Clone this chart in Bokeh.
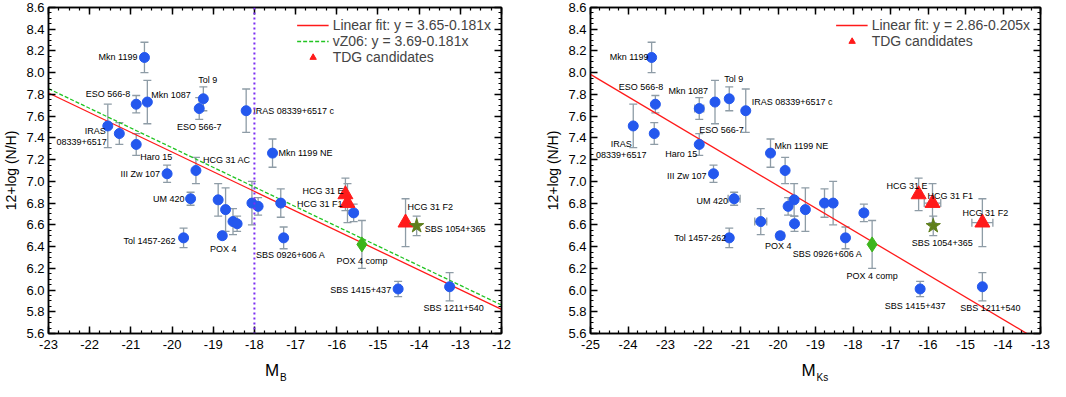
import numpy as np
from bokeh.plotting import figure
from bokeh.models import (ColumnDataSource, Range1d, FixedTicker, PrintfTickFormatter,
                          CustomJSTickFormatter, LinearAxis, Whisker, TeeHead, Span, Legend,
                          LegendItem)
from bokeh.layouts import row, column
from bokeh.embed import file_html
from bokeh.resources import INLINE
from bokeh.core.properties import value

# ---------------- data ----------------
blue_names = ["Mkn 1199", "ESO 566-8", "Mkn 1087", "Tol 9", "ESO 566-7", "IRAS 08339+6517 c",
              "IRAS 08339+6517", "p8", "Haro 15", "HCG 31 AC", "III Zw 107", "Mkn 1199 NE",
              "UM 420", "Tol 1457-262", "p15", "p16", "POX 4", "p18", "p19", "p20", "p21", "p22",
              "SBS 0926+606 A", "p24", "SBS 1415+437", "SBS 1211+540"]
blue_mb = [-20.67, -20.87, -20.60, -19.24, -19.34, -18.20, -21.56, -21.28, -20.87, -19.42,
           -20.12, -17.56, -19.55, -19.72, -18.88, -18.70, -18.78, -18.52, -18.42, -18.06,
           -17.91, -17.36, -17.29, -15.59, -14.51, -13.26]
blue_mks = [-23.37, -23.27, -21.68, -21.30, -22.10, -20.86, -23.86, -23.30, -22.10, -19.81,
            -21.72, -20.20, -21.17, -21.30, -19.57, -19.27, -19.94, -20.46, -19.56, -18.53,
            -19.73, -18.76, -18.20, -17.71, -16.21, -14.55]
blue_mks_err = [0, 0, 0, 0, 0.12, 0, 0, 0, 0, 0,
                0, 0, 0.16, 0, 0, 0, 0.10, 0.16, 0, 0,
                0, 0, 0, 0, 0, 0]
blue_nh = [8.14, 7.71, 7.73, 7.76, 7.67, 7.65, 7.51, 7.44, 7.34, 7.10, 7.07, 7.26, 6.84,
           6.48, 6.83, 6.74, 6.50, 6.63, 6.61, 6.80, 6.77, 6.80, 6.48, 6.71, 6.01, 6.03]
blue_nh_err = [0.14, 0.08, 0.20, 0.11, 0.10, 0.20, 0.20, 0.10, 0.10, 0.12, 0.08, 0.13, 0.06,
               0.09, 0.15, 0.20, 0.03, 0.12, 0.07, 0.20, 0.08, 0.13, 0.10, 0.08, 0.07, 0.13]

tdg_names = ["HCG 31 E", "HCG 31 F1", "HCG 31 F2"]
tdg_mb = [-15.79, -15.74, -14.33]
tdg_mks = [-16.25, -15.88, -14.55]
tdg_mks_err = [0, 0.22, 0.28]
tdg_nh = [6.88, 6.80, 6.62]
tdg_nh_err = [0.15, 0.18, 0.22]

star_names = ["SBS 1054+365"]
star_mb = [-14.06]
star_mks = [-15.86]
star_nh = [6.59]
star_nh_err = [0.09]

diam_names = ["POX 4 comp"]
diam_mb = [-15.39]
diam_mks = [-17.49]
diam_nh = [6.42]
diam_nh_err = [0.22]

fit_left = [(3.65, -0.181, "Linear fit: y = 3.65-0.181x"), (3.69, -0.181, "vZ06: y = 3.69-0.181x")]
fit_right = [(2.86, -0.205, "Linear fit: y = 2.86-0.205x")]
MB_LIMIT = -18.0

# label placements: (anchor, text, dx px, dy px (down +), align)
labels_left = [
    ("Mkn 1199", "Mkn 1199", -7, 0, "right"),
    ("ESO 566-8", "ESO 566-8", -6, -10, "right"),
    ("Mkn 1087", "Mkn 1087", 4, -7, "left"),
    ("Tol 9", "Tol 9", -5, -19, "left"),
    ("ESO 566-7", "ESO 566-7", 0, 18, "center"),
    ("IRAS 08339+6517 c", "IRAS 08339+6517 c", 7, 0, "left"),
    ("IRAS 08339+6517", "IRAS", -2, 5, "right"),
    ("IRAS 08339+6517", "08339+6517", -1, 16, "right"),
    ("Haro 15", "Haro 15", 4, 13, "left"),
    ("HCG 31 AC", "HCG 31 AC", 7, -11, "left"),
    ("III Zw 107", "III Zw 107", -7, 0, "right"),
    ("Mkn 1199 NE", "Mkn 1199 NE", 6, 0, "left"),
    ("UM 420", "UM 420", -6, 0, "right"),
    ("Tol 1457-262", "Tol 1457-262", -8, 3, "right"),
    ("POX 4", "POX 4", 1, 13, "center"),
    ("SBS 0926+606 A", "SBS 0926+606 A", 7, 17, "center"),
    ("HCG 31 E", "HCG 31 E", -2, -3, "right"),
    ("HCG 31 F1", "HCG 31 F1", -5, 1, "right"),
    ("HCG 31 F2", "HCG 31 F2", 2, -16, "left"),
    ("SBS 1054+365", "SBS 1054+365", 8, 3, "left"),
    ("POX 4 comp", "POX 4 comp", 0, 17, "center"),
    ("SBS 1415+437", "SBS 1415+437", -7, 1, "right"),
    ("SBS 1211+540", "SBS 1211+540", 4, 21, "center"),
]
labels_right = [
    ("Mkn 1199", "Mkn 1199", -3, 0, "right"),
    ("ESO 566-8", "ESO 566-8", 8, -17, "right"),
    ("Mkn 1087", "Mkn 1087", -7, -11, "right"),
    ("Tol 9", "Tol 9", -5, -20, "left"),
    ("IRAS 08339+6517 c", "IRAS 08339+6517 c", 6, -9, "left"),
    ("ESO 566-7", "ESO 566-7", 0, 21, "left"),
    ("IRAS 08339+6517", "IRAS", -12, 18, "center"),
    ("IRAS 08339+6517", "08339+6517", -12, 29, "center"),
    ("Haro 15", "Haro 15", -2, 10, "right"),
    ("Mkn 1199 NE", "Mkn 1199 NE", 4, -7, "left"),
    ("III Zw 107", "III Zw 107", -7, 2, "right"),
    ("UM 420", "UM 420", -6, 2, "right"),
    ("Tol 1457-262", "Tol 1457-262", -3, 0, "right"),
    ("POX 4", "POX 4", -2, 10, "center"),
    ("SBS 0926+606 A", "SBS 0926+606 A", -18, 16, "center"),
    ("POX 4 comp", "POX 4 comp", 0, 32, "center"),
    ("HCG 31 E", "HCG 31 E", 9, -8, "right"),
    ("HCG 31 F1", "HCG 31 F1", -5, -7, "left"),
    ("SBS 1054+365", "SBS 1054+365", 9, 17, "center"),
    ("HCG 31 F2", "HCG 31 F2", 3, -10, "center"),
    ("SBS 1415+437", "SBS 1415+437", -5, 17, "center"),
    ("SBS 1211+540", "SBS 1211+540", 8, 21, "center"),
]

# ---------------- style ----------------
FONT = "Liberation Sans"
BLUE = "#2458ee"
ERR = "#8e9ca6"
RED = "#ff1a1a"
GREEN_LINE = "#22c422"
OLIVE = "#5f7f1c"
DIAM = "#3db51c"
VIOLET = "#7a2cf2"
Y0, Y1 = 5.6, 8.6
MAIN_H = 355
LAB_H = 26


def make_panel(xb, xb_err, xt, xt_err, xs, xd, xr, fits, label_spec, width, mbl, mbr, sub, sub_dx, m_dx, vline):
    p = figure(width=width, height=MAIN_H, x_range=Range1d(*xr), y_range=Range1d(Y0, Y1),
               output_backend="svg", toolbar_location=None,
               min_border_left=mbl, min_border_right=mbr, min_border_top=7, min_border_bottom=22)
    p.grid.visible = False
    p.outline_line_color = "black"
    p.outline_line_width = 1.5

    xt_major = list(np.arange(xr[0], xr[1] + 0.5, 1.0))
    xt_minor = list(np.arange(xr[0], xr[1] + 0.01, 0.25))
    yt_major = list(np.round(np.arange(Y0, Y1 + 0.01, 0.2), 2))
    yt_minor = list(np.round(np.arange(Y0, Y1 + 0.01, 0.05), 3))

    def style(ax, ticker):
        ax.ticker = ticker
        ax.axis_line_width = 1.5
        ax.major_tick_line_width = 1.5
        ax.minor_tick_line_width = 1.2
        ax.major_tick_in = 7
        ax.major_tick_out = 0
        ax.minor_tick_in = 3
        ax.minor_tick_out = 0

    xa = p.xaxis[0]
    style(xa, FixedTicker(ticks=xt_major, minor_ticks=xt_minor))
    xa.formatter = PrintfTickFormatter(format="%d")
    xa.major_label_text_font = FONT
    xa.major_label_text_font_size = "13px"
    xa.major_label_text_color = "black"
    xa.major_label_standoff = 6

    ya = p.yaxis[0]
    style(ya, FixedTicker(ticks=yt_major, minor_ticks=yt_minor))
    ya.formatter = PrintfTickFormatter(format="%.1f")
    ya.major_label_text_font = FONT
    ya.major_label_text_font_size = "13px"
    ya.major_label_text_color = "black"
    ya.major_label_standoff = 4
    ya.axis_label = "12+log (N/H)"
    ya.axis_label_text_font = FONT
    ya.axis_label_text_font_size = "14px"
    ya.axis_label_text_font_style = "normal"
    ya.axis_label_text_color = "black"
    ya.axis_label_standoff = 4

    top = LinearAxis(formatter=CustomJSTickFormatter(code="return ''"), major_label_standoff=0)
    style(top, FixedTicker(ticks=xt_major, minor_ticks=xt_minor))
    p.add_layout(top, "above")
    rgt = LinearAxis(formatter=CustomJSTickFormatter(code="return ''"), major_label_standoff=0)
    style(rgt, FixedTicker(ticks=yt_major, minor_ticks=yt_minor))
    p.add_layout(rgt, "right")

    # fit lines
    fit_colors = [RED, GREEN_LINE]
    fit_dash = [None, "4 2"]
    items = []
    xx = np.array([xr[0], xr[1]])
    for i, (a, b, lab) in enumerate(fits):
        kw = dict(line_color=fit_colors[i], line_width=1.3)
        if fit_dash[i]:
            kw["line_dash"] = fit_dash[i]
        r = p.line(xx, a + b * xx, **kw)
        items.append(LegendItem(label=lab, renderers=[r]))

    if vline:
        p.add_layout(Span(location=MB_LIMIT, dimension="height", line_color=VIOLET,
                          line_dash="2 3", line_width=2))

    # error bars
    all_x = list(xb) + list(xt) + list(xs) + list(xd)
    all_y = blue_nh + tdg_nh + star_nh + diam_nh
    all_e = blue_nh_err + tdg_nh_err + star_nh_err + diam_nh_err
    all_names = blue_names + tdg_names + star_names + diam_names
    ysrc = ColumnDataSource(dict(x=all_x, lo=[y - e for y, e in zip(all_y, all_e)],
                                 hi=[y + e for y, e in zip(all_y, all_e)]))
    p.add_layout(Whisker(source=ysrc, base="x", lower="lo", upper="hi", dimension="height",
                         line_color=ERR, line_width=1.3,
                         upper_head=TeeHead(size=8, line_color=ERR, line_width=1.3),
                         lower_head=TeeHead(size=8, line_color=ERR, line_width=1.3)))
    hx = list(xb) + list(xt)
    hy = blue_nh + tdg_nh
    he = list(xb_err) + list(xt_err)
    sel = [i for i, e in enumerate(he) if e > 0]
    if sel:
        xsrc = ColumnDataSource(dict(y=[hy[i] for i in sel], lo=[hx[i] - he[i] for i in sel],
                                     hi=[hx[i] + he[i] for i in sel]))
        p.add_layout(Whisker(source=xsrc, base="y", lower="lo", upper="hi", dimension="width",
                             line_color=ERR, line_width=1.3,
                             upper_head=TeeHead(size=8, line_color=ERR, line_width=1.3),
                             lower_head=TeeHead(size=8, line_color=ERR, line_width=1.3)))

    # markers
    p.scatter(list(xb), blue_nh, marker="circle", size=10, fill_color=BLUE, line_color=BLUE)
    rt = p.scatter(list(xt), tdg_nh, marker="triangle", size=15, fill_color=RED, line_color=RED)
    p.scatter(list(xs), star_nh, marker="star", size=15, fill_color=OLIVE, line_color=OLIVE)
    p.scatter(list(xd), diam_nh, marker="diamond", size=15, fill_color=DIAM, line_color=DIAM)
    items.append(LegendItem(label="TDG candidates", renderers=[rt]))

    leg = Legend(items=items, location="top_right", border_line_alpha=0, background_fill_alpha=0,
                 label_text_font=FONT, label_text_font_size="14px", glyph_width=32, glyph_height=16,
                 label_height=16, spacing=0, padding=2, margin=8, label_standoff=4)
    p.add_layout(leg)

    # point labels
    pos = {n: (x, y) for n, x, y in zip(all_names, all_x, all_y)}
    for align in ["left", "center", "right"]:
        rows = [s for s in label_spec if s[4] == align]
        if not rows:
            continue
        src = ColumnDataSource(dict(x=[pos[s[0]][0] for s in rows], y=[pos[s[0]][1] for s in rows],
                                    t=[s[1] for s in rows], dx=[s[2] for s in rows],
                                    dy=[s[3] for s in rows]))
        p.text(x="x", y="y", text="t", x_offset="dx", y_offset="dy", source=src,
               text_font=value(FONT), text_font_size="9px", text_align=align,
               text_baseline="middle", text_color="black")

    # x-axis title with subscript, in a strip below the plot
    pl = figure(width=width, height=LAB_H, x_range=p.x_range, y_range=Range1d(0, LAB_H),
                output_backend="svg", toolbar_location=None, x_axis_type=None, y_axis_type=None,
                min_border_left=mbl, min_border_right=mbr, min_border_top=0, min_border_bottom=0)
    pl.grid.visible = False
    pl.outline_line_color = None
    xm = (xr[0] + xr[1]) / 2
    pl.text(x=[xm], y=[11], text=["M"], x_offset=[m_dx], text_font=value(FONT),
            text_font_size="17px", text_align="center", text_baseline="middle", text_color="black")
    pl.text(x=[xm], y=[4.5], text=[sub], x_offset=[sub_dx], text_font=value(FONT),
            text_font_size="10px", text_align="left", text_baseline="middle", text_color="black")
    return column(p, pl, spacing=0)


p1 = make_panel(blue_mb, [0] * len(blue_mb), tdg_mb, [0, 0, 0], star_mb, diam_mb, (-23, -12),
                fit_left, labels_left, 542, 44, 41, "B", 5, -3, True)
p2 = make_panel(blue_mks, blue_mks_err, tdg_mks, tdg_mks_err, star_mks, diam_mks, (-25, -13),
                fit_right, labels_right, 508, 47, 10, "Ks", 1, -7, False)

layout = row(p1, p2, spacing=0)
open("out.html", "w").write(file_html(layout, INLINE))
